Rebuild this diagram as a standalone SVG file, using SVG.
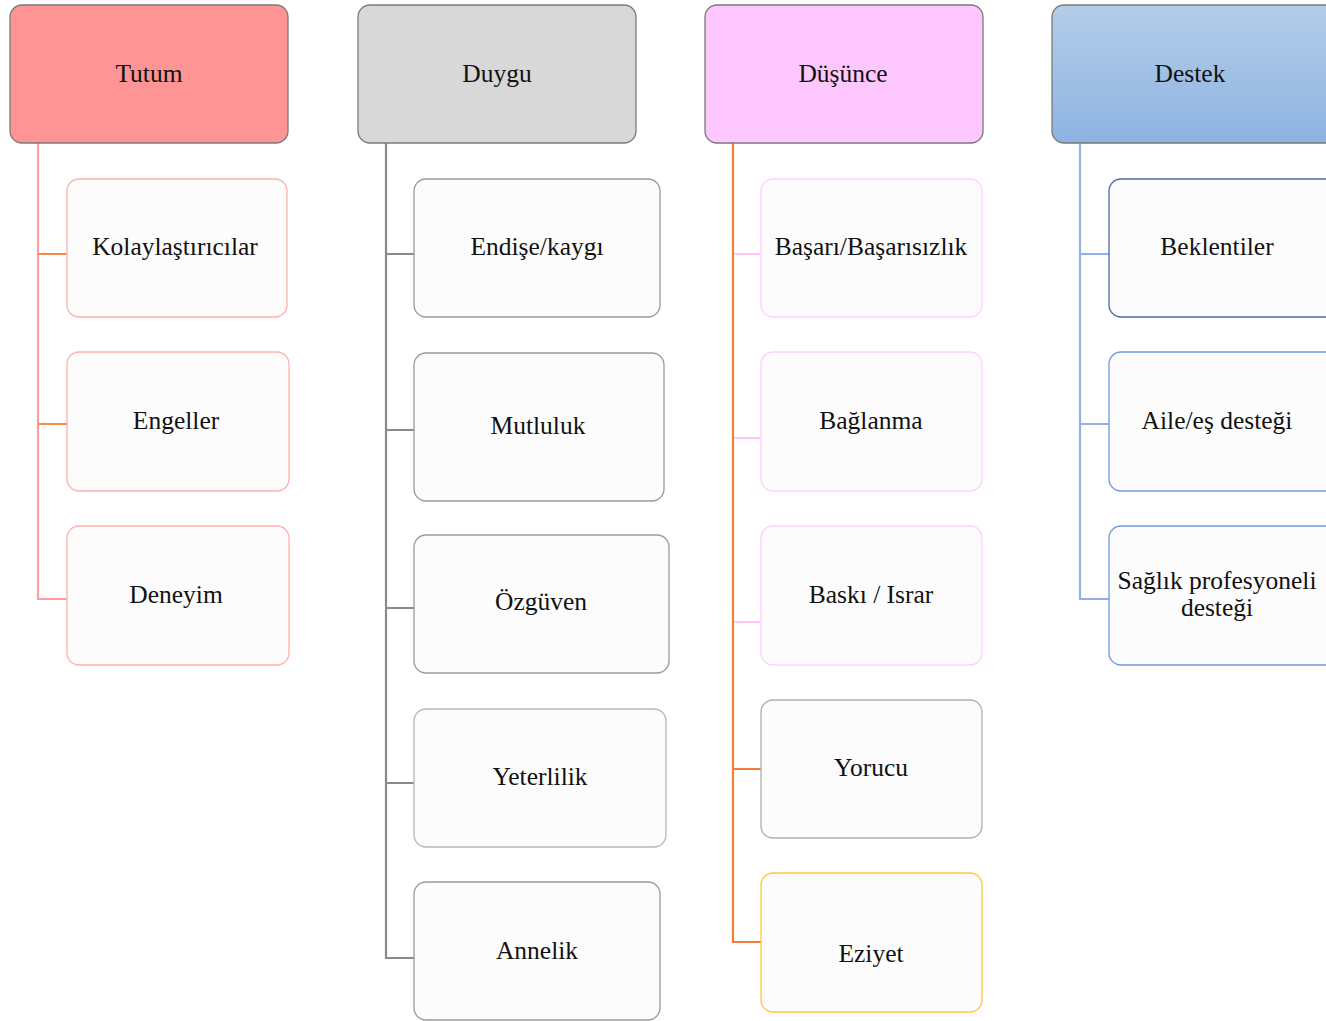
<svg xmlns="http://www.w3.org/2000/svg" width="1326" height="1021" viewBox="0 0 1326 1021">
<defs>
<linearGradient id="gBlue" x1="0" y1="0" x2="0" y2="1">
<stop offset="0" stop-color="#B3CDE9"/>
<stop offset="1" stop-color="#8EB3E1"/>
</linearGradient>
</defs>
<style>
text{font-family:"Liberation Serif","Times New Roman",serif;font-size:25.5px;fill:#111;text-anchor:middle}
.top{stroke:#7a7a7a;stroke-width:1.3}
.child{fill:#FCFCFC;stroke-width:1.3}
.c{fill:none;stroke-width:2.2}
</style>
<rect width="1326" height="1021" fill="#FFFFFF"/>
<g id="connectors">
<path class="c" d="M38 143 V599 H67" stroke="#FF9E9E"/>
<path class="c" d="M38 254 H67 M38 424 H67" stroke="#F48A45"/>
<path class="c" d="M386 143 V958 H414 M386 254 H414 M386 430 H414 M386 608 H414 M386 783 H414" stroke="#8A8A8A"/>
<path class="c" d="M733 143 V942 H761 M733 769 H761" stroke="#EF7F3A"/>
<path class="c" d="M734 254 H761 M734 438 H761 M734 622 H761" stroke="#FFC4FA"/>
<path class="c" d="M1080 143 V599 H1109 M1080 254 H1109 M1080 424 H1109" stroke="#8EB2E6"/>
</g>
<g id="tutum"><rect class="top" x="10" y="5" width="278" height="138" rx="12" fill="#FF9494"/><text x="149" y="82">Tutum</text></g>
<g id="duygu"><rect class="top" x="358" y="5" width="278" height="138" rx="12" fill="#D8D8D8"/><text x="497" y="82">Duygu</text></g>
<g id="dusunce"><rect class="top" x="705" y="5" width="278" height="138" rx="12" fill="#FFC7FF"/><text x="843" y="82">Düşünce</text></g>
<g id="destek"><rect class="top" x="1052" y="5" width="290" height="138" rx="12" fill="url(#gBlue)"/><text x="1190" y="82">Destek</text></g>

<g id="kolaylastiricilar"><rect class="child" x="67" y="179" width="220" height="138" rx="12" stroke="#FFB0B0"/><text x="175" y="255">Kolaylaştırıcılar</text></g>
<g id="engeller"><rect class="child" x="67" y="352" width="222" height="139" rx="12" stroke="#FFB0B0"/><text x="176" y="429">Engeller</text></g>
<g id="deneyim"><rect class="child" x="67" y="526" width="222" height="139" rx="12" stroke="#FFB0B0"/><text x="176" y="603">Deneyim</text></g>

<g id="endise"><rect class="child" x="414" y="179" width="246" height="138" rx="12" stroke="#9a9a9a"/><text x="537" y="255">Endişe/kaygı</text></g>
<g id="mutluluk"><rect class="child" x="414" y="353" width="250" height="148" rx="12" stroke="#9a9a9a"/><text x="538" y="434">Mutluluk</text></g>
<g id="ozguven"><rect class="child" x="414" y="535" width="255" height="138" rx="12" stroke="#9a9a9a"/><text x="541" y="610">Özgüven</text></g>
<g id="yeterlilik"><rect class="child" x="414" y="709" width="252" height="138" rx="12" stroke="#B8B8B8"/><text x="540" y="785">Yeterlilik</text></g>
<g id="annelik"><rect class="child" x="414" y="882" width="246" height="138" rx="12" stroke="#9a9a9a"/><text x="537" y="959">Annelik</text></g>

<g id="basari"><rect class="child" x="761" y="179" width="221" height="138" rx="12" stroke="#FFD0FF"/><text x="871" y="255">Başarı/Başarısızlık</text></g>
<g id="baglanma"><rect class="child" x="761" y="352" width="221" height="139" rx="12" stroke="#FFD0FF"/><text x="871" y="429">Bağlanma</text></g>
<g id="baski"><rect class="child" x="761" y="526" width="221" height="139" rx="12" stroke="#FFD0FF"/><text x="871" y="603">Baskı / Israr</text></g>
<g id="yorucu"><rect class="child" x="761" y="700" width="221" height="138" rx="12" stroke="#B0B0B0"/><text x="871" y="776">Yorucu</text></g>
<g id="eziyet"><rect class="child" x="761" y="873" width="221" height="139" rx="12" stroke="#FFC83C"/><text x="871" y="962">Eziyet</text></g>

<g id="beklentiler"><rect class="child" x="1109" y="179" width="230" height="138" rx="12" stroke="#4A6AA5"/><text x="1217" y="255">Beklentiler</text></g>
<g id="aile"><rect class="child" x="1109" y="352" width="230" height="139" rx="12" stroke="#6E9BD9"/><text x="1217" y="429">Aile/eş desteği</text></g>
<g id="saglik"><rect class="child" x="1109" y="526" width="230" height="139" rx="12" stroke="#6E9BD9"/><text x="1217" y="589">Sağlık profesyoneli</text><text x="1217" y="616">desteği</text></g>
</svg>
